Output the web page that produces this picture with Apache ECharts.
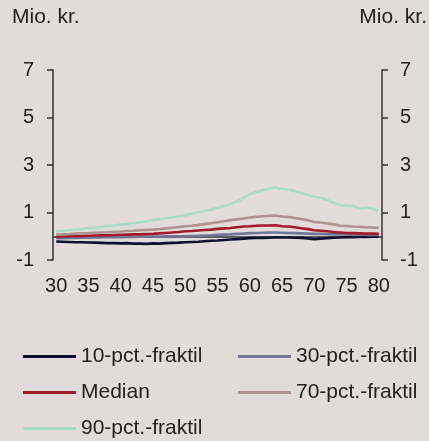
<!DOCTYPE html>
<html><head><meta charset="utf-8">
<script src="https://cdn.jsdelivr.net/npm/echarts@6/dist/echarts.min.js"></script>
<style>html,body{margin:0;padding:0;background:#e1dbd9;}#c{width:429px;height:441px;}</style>
</head><body><div id="c"></div>
<script>
var ages = [];
for (var a = 30; a <= 80; a++) ages.push(String(a));
var yTicks = [-1, 1, 3, 5, 7];
var p10 = [-0.22,-0.23,-0.24,-0.25,-0.25,-0.26,-0.27,-0.28,-0.29,-0.29,-0.30,-0.29,-0.31,-0.31,-0.32,-0.30,-0.31,-0.29,-0.28,-0.27,-0.25,-0.24,-0.23,-0.21,-0.19,-0.18,-0.16,-0.14,-0.12,-0.10,-0.08,-0.07,-0.07,-0.06,-0.04,-0.05,-0.05,-0.06,-0.07,-0.09,-0.12,-0.10,-0.08,-0.06,-0.05,-0.04,-0.04,-0.03,-0.03,-0.02,-0.02];
var p30 = [-0.08,-0.08,-0.07,-0.07,-0.06,-0.06,-0.05,-0.05,-0.04,-0.04,-0.04,-0.03,-0.03,-0.02,-0.02,-0.01,-0.01,0.00,0.00,0.00,0.00,0.01,0.02,0.03,0.04,0.06,0.07,0.08,0.10,0.11,0.13,0.14,0.15,0.16,0.16,0.15,0.14,0.13,0.12,0.11,0.10,0.10,0.09,0.08,0.08,0.07,0.07,0.07,0.06,0.06,0.06];
var median = [-0.02,-0.01,0.00,0.01,0.01,0.02,0.03,0.04,0.04,0.05,0.06,0.07,0.08,0.08,0.09,0.10,0.12,0.14,0.16,0.18,0.21,0.22,0.24,0.26,0.28,0.31,0.33,0.35,0.38,0.41,0.42,0.44,0.45,0.45,0.46,0.42,0.41,0.38,0.34,0.30,0.25,0.23,0.21,0.18,0.16,0.14,0.13,0.12,0.11,0.11,0.10];
var p70 = [0.07,0.08,0.09,0.11,0.12,0.13,0.15,0.16,0.17,0.19,0.20,0.22,0.23,0.25,0.27,0.28,0.30,0.33,0.36,0.39,0.42,0.44,0.47,0.51,0.55,0.59,0.63,0.68,0.71,0.75,0.79,0.82,0.84,0.86,0.87,0.83,0.81,0.77,0.72,0.67,0.60,0.58,0.54,0.50,0.44,0.43,0.41,0.40,0.38,0.37,0.35];
var p90 = [0.21,0.23,0.26,0.28,0.31,0.34,0.36,0.39,0.43,0.45,0.49,0.52,0.55,0.59,0.63,0.68,0.72,0.76,0.80,0.84,0.88,0.95,1.01,1.06,1.12,1.20,1.27,1.36,1.47,1.60,1.77,1.86,1.94,2.01,2.05,1.99,1.97,1.90,1.82,1.74,1.66,1.62,1.53,1.41,1.31,1.29,1.28,1.16,1.21,1.16,1.06];
var names = ['10-pct.-fraktil','30-pct.-fraktil','Median','70-pct.-fraktil','90-pct.-fraktil'];
var colors = ['#0d1030','#72779a','#a01a2a','#ad9391','#a8dcc8'];
var datas = [p10, p30, median, p70, p90];

var font = 'Liberation Sans, Arial, sans-serif';
var fs = 20;
var fsL = 21;
var txt = '#222222';
var chart = echarts.init(document.getElementById('c'));
var yAxisBase = function (pos) {
  return {
    type: 'value', position: pos, min: yTicks[0], max: yTicks[yTicks.length - 1], interval: 2,
    splitLine: {show: false},
    axisLine: {show: true, lineStyle: {color: '#333', width: 1.5}},
    axisTick: {show: true, length: 6, lineStyle: {color: '#333', width: 1.5}},
    axisLabel: {color: txt, fontSize: fs, fontFamily: font, margin: pos === 'left' ? 19 : 18}
  };
};
var legendCommon = {
  orient: 'vertical', icon: 'rect', itemWidth: 53, itemHeight: 3, itemGap: 15, padding: 0,
  textStyle: {color: txt, fontSize: fsL, fontFamily: font, padding: [0, 0, 0, 0]}
};
chart.setOption({
  backgroundColor: '#e1dbd9',
  animation: false,
  grid: {left: 53, right: 47, top: 70, bottom: 181},
  graphic: [
    {type: 'text', left: 12, top: 7, style: {text: 'Mio. kr.', fill: txt, font: fsL + 'px ' + font}},
    {type: 'text', right: 2, top: 7, style: {text: 'Mio. kr.', fill: txt, font: fsL + 'px ' + font}}
  ],
  legend: [
    Object.assign({left: 23, top: 346, data: [names[0], names[2], names[4]]}, legendCommon),
    Object.assign({left: 238, top: 346, data: [names[1], names[3]]}, legendCommon)
  ],
  xAxis: {
    type: 'category', data: ages, boundaryGap: true,
    axisLine: {show: true, lineStyle: {color: '#333', width: 1.5}},
    axisTick: {show: false},
    axisLabel: {interval: 4, color: txt, fontSize: fs, fontFamily: font, margin: 16}
  },
  yAxis: [yAxisBase('left'), yAxisBase('right')],
  series: datas.map(function (d, i) {
    return {
      name: names[i], type: 'line', data: d, symbol: 'none', yAxisIndex: 0,
      lineStyle: {color: colors[i], width: 2.6}, itemStyle: {color: colors[i]}
    };
  })
});
</script></body></html>
